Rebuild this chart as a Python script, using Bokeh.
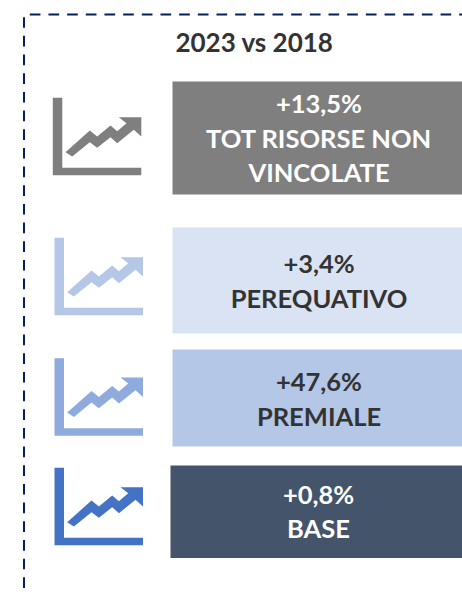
from bokeh.plotting import figure
from bokeh.models import Range1d
from bokeh.embed import file_html
from bokeh.resources import INLINE
from bokeh.core.properties import value

title = "2023 vs 2018"
changes = ["+13,5%", "+3,4%", "+47,6%", "+0,8%"]
names = [["TOT RISORSE NON", "VINCOLATE"], ["PEREQUATIVO"], ["PREMIALE"], ["BASE"]]

card_left = [172, 172, 172, 170]
card_top = [81, 227, 349, 465]
card_bottom = [194, 333, 446, 557.5]
card_fill = ["#7F7F7F", "#DAE3F3", "#B4C7E7", "#44546A"]
text_fill = ["#FFFFFF", "#333333", "#333333", "#FFFFFF"]
text_x = [318.5, 318.5, 318.5, 318]
icon_x = [52.3, 54, 54, 54]
icon_y = [97.3, 237.3, 357.7, 467.3]
icon_fill = ["#7F7F7F", "#B4C7E7", "#8FAADC", "#4472C4"]

# line positions inside each card (centres)
line_y = [[102, 137, 171], [262, 297], [380, 415], [493, 527]]

ax_x = [0, 9.5, 9.5, 88.5, 88.5, 0]
ax_y = [0, 0, 70, 70, 77.5, 77.5]
ar_x = [12.7, 37, 44.4, 57.7, 64.4, 73.7, 66, 88.5, 88.5, 81, 64.4, 57.7, 44.4, 37, 19.4]
ar_y = [54.4, 32.7, 38.7, 27.7, 33.4, 25.4, 19.4, 19.4, 38.7, 32, 45.4, 39.4, 50, 44.4, 58.7]

F = value("Lato")
p = figure(width=462, height=597, output_backend="svg", toolbar_location=None,
           x_range=Range1d(0, 462), y_range=Range1d(597, 0), min_border=0)
p.xaxis.visible = False
p.yaxis.visible = False
p.grid.visible = False
p.outline_line_color = None
p.background_fill_color = "#FFFFFF"
p.border_fill_color = "#FFFFFF"

NAVY = "#002060"
PERIOD, DASH = 18.67, 10.67
n_v, n_h = 31, 24
vs = [16.7 + k * PERIOD for k in range(n_v)]
hs = [29.3 + k * PERIOD for k in range(n_h)]
p.segment([23.5] * n_v, vs, [23.5] * n_v, [min(v + DASH, 597) for v in vs], line_color=NAVY, line_width=2)
p.segment(hs, [14] * n_h, [h + DASH for h in hs], [14] * n_h, line_color=NAVY, line_width=2)

p.text([254], [41.5], text=[title], text_font=F, text_font_style="bold", text_font_size="26px",
       text_color="#333333", text_align="center", text_baseline="middle")

for i in range(4):
    p.quad(left=[card_left[i]], right=[462], top=[card_top[i]], bottom=[card_bottom[i]],
           fill_color=card_fill[i], line_color=None)
    p.patch([icon_x[i] + v for v in ax_x], [icon_y[i] + v for v in ax_y],
            fill_color=icon_fill[i], line_color=None)
    p.patch([icon_x[i] + v for v in ar_x], [icon_y[i] + v for v in ar_y],
            fill_color=icon_fill[i], line_color=None)
    lines = [changes[i]] + names[i]
    for t, y in zip(lines, line_y[i]):
        p.text([text_x[i]], [y], text=[t], text_font=F, text_font_style="bold", text_font_size="25.5px",
               text_color=text_fill[i], text_align="center", text_baseline="middle")

open("out.html", "w").write(file_html(p, INLINE))
